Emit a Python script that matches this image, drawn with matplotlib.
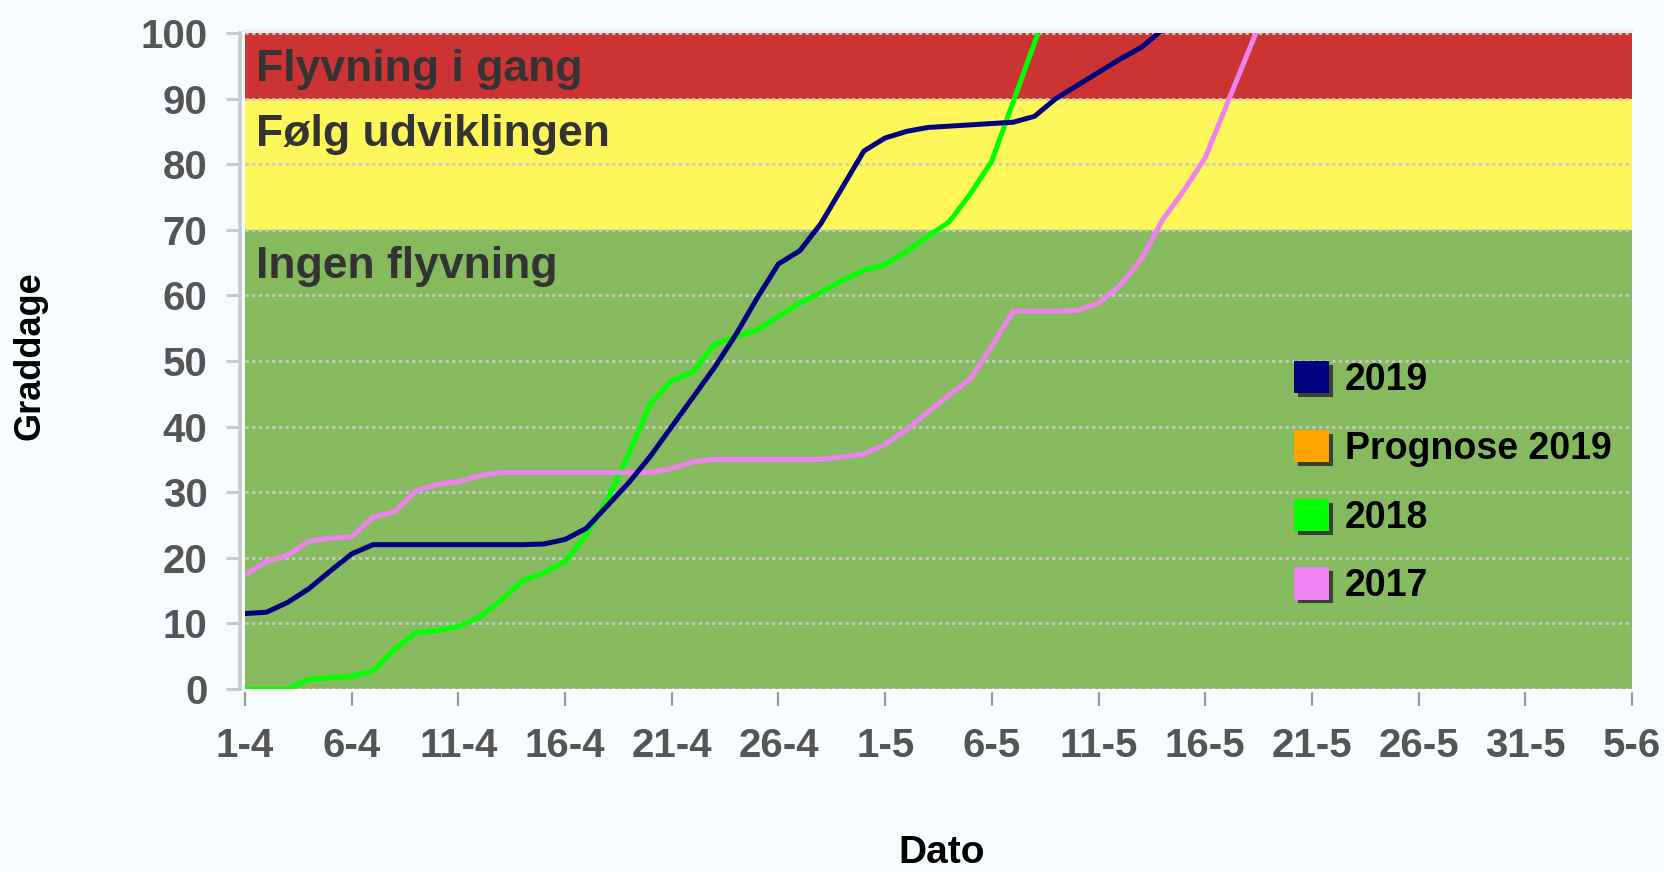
import matplotlib
matplotlib.use("Agg")
import matplotlib.pyplot as plt
from matplotlib.patches import Patch
import matplotlib.patheffects as pe

plt.rcParams['font.family'] = ['Liberation Sans', 'DejaVu Sans']
plt.rcParams['font.weight'] = 'bold'

# ---------------- data ----------------
tick_days = [0, 5, 10, 15, 20, 25, 30, 35, 40, 45, 50, 55, 60, 65]
tick_labels = ['1-4', '6-4', '11-4', '16-4', '21-4', '26-4', '1-5', '6-5',
               '11-5', '16-5', '21-5', '26-5', '31-5', '5-6']
y_ticks = [0, 10, 20, 30, 40, 50, 60, 70, 80, 90, 100]

band_lower = [0, 70, 90]
band_upper = [70, 90, 100]
band_colors = ['#85BB5E', '#FFF75A', '#CC3333']
band_labels = ['Ingen flyvning', 'Følg udviklingen', 'Flyvning i gang']

days_2019 = list(range(0, 45))
v2019 = [11.5, 11.7, 13.2, 15.3, 18.0, 20.6, 22.0, 22.0, 22.0, 22.0,
         22.0, 22.0, 22.0, 22.0, 22.1, 22.8, 24.5, 28.0, 31.5, 35.5,
         40.0, 44.5, 49.0, 54.0, 59.6, 64.8, 66.8, 71.0, 76.5, 82.0,
         84.0, 85.0, 85.6, 85.8, 86.0, 86.2, 86.4, 87.3, 90.0, 92.0,
         94.0, 96.0, 97.8, 100.5, 104.0]

days_2018 = list(range(0, 39))
v2018 = [0.0, 0.0, 0.0, 1.5, 1.7, 1.9, 2.8, 6.0, 8.6, 8.9,
         9.5, 11.0, 13.5, 16.5, 17.7, 19.4, 23.5, 29.0, 36.0, 43.5,
         47.0, 48.4, 52.5, 53.7, 54.7, 56.8, 58.8, 60.5, 62.3, 63.8,
         64.7, 66.7, 69.0, 71.2, 75.5, 80.5, 89.5, 98.5, 107.0]

days_2017 = list(range(0, 49))
v2017 = [17.4, 19.4, 20.4, 22.5, 23.0, 23.2, 26.2, 27.0, 30.2, 31.2,
         31.6, 32.5, 33.0, 33.0, 33.0, 33.0, 33.0, 33.0, 33.0, 33.0,
         33.6, 34.6, 35.0, 35.0, 35.0, 35.0, 35.0, 35.0, 35.4, 35.8,
         37.3, 39.5, 42.2, 44.8, 47.3, 52.3, 57.6, 57.6, 57.6, 57.7,
         58.8, 61.5, 65.5, 71.5, 76.0, 81.0, 89.0, 97.0, 105.0]

legend_labels = ['2019', 'Prognose 2019', '2018', '2017']
legend_colors = ['#000080', '#FFA500', '#00FF00', '#EE82EE']

# ---------------- figure ----------------
bg = '#F7FCFE'
fig = plt.figure(figsize=(16.65, 8.72), dpi=100, facecolor=bg)
ax = fig.add_axes([245 / 1665, 1 - 689 / 872, (1632 - 245) / 1665, (689 - 33) / 872])
ax.set_facecolor(bg)

for lo, hi, c, lab in zip(band_lower, band_upper, band_colors, band_labels):
    ax.axhspan(lo, hi, facecolor=c, edgecolor='none', zorder=1)
    ax.text(0.5, hi - 7.3, lab, fontsize=32, color='#333333', fontweight='bold',
            ha='left', va='baseline', zorder=4)

ax.plot(days_2019, v2019, color=legend_colors[0], lw=3.6, zorder=5,
        solid_joinstyle='round')
ax.plot(days_2018, v2018, color=legend_colors[2], lw=3.6, zorder=4,
        solid_joinstyle='round')
ax.plot(days_2017, v2017, color=legend_colors[3], lw=3.6, zorder=4,
        solid_joinstyle='round')

ax.set_xlim(tick_days[0], tick_days[-1])
ax.set_ylim(0, 100)
ax.set_xticks(tick_days)
ax.set_xticklabels(tick_labels)
ax.set_yticks(y_ticks)

ax.set_axisbelow('line')
ax.yaxis.grid(True, linestyle=(0, (1.2, 1.2)), color='#C8C8C8', linewidth=2.0, zorder=1.5)
ax.xaxis.grid(False)

ax.spines['right'].set_visible(False)
ax.spines['bottom'].set_position(('outward', 2.2))
ax.spines['bottom'].set_color('none')
ax.spines['left'].set_position(('outward', 3.6))
ax.spines['left'].set_color('#C8C8C8')
ax.spines['left'].set_linewidth(2.6)
ax.spines['top'].set_position(('outward', 1.2))
ax.spines['top'].set_color('#EEEEEE')
ax.spines['top'].set_linewidth(2.6)

ax.tick_params(axis='x', direction='out', length=10, width=1.6, color='#9A9A9A',
               pad=15.5, labelsize=29, labelcolor='#555555')
ax.tick_params(axis='y', direction='out', length=10, width=2.2, color='#C8C8C8',
               pad=13.5, labelsize=29, labelcolor='#555555')

fig.text(30 / 1665, 1 - 356 / 872, 'Graddage', rotation=90, ha='center', va='center',
         fontsize=26, color='black', fontweight='bold')
fig.text(942 / 1665, 1 / 872, 'Dato', ha='center', va='bottom',
         fontsize=28, color='black', fontweight='bold')

shadow = [pe.SimplePatchShadow(offset=(2.8, -2.8), shadow_rgbFace='#333333', alpha=0.9), pe.Normal()]
handles = [Patch(facecolor=c, edgecolor='none', path_effects=shadow) for c in legend_colors]
leg = ax.legend(handles, legend_labels, loc='upper left',
                bbox_to_anchor=(1294 / 1665, 1 - 361 / 872), bbox_transform=fig.transFigure,
                frameon=False, prop={'size': 27, 'weight': 'bold'},
                handlelength=0.94, handleheight=0.94, handletextpad=0.42,
                labelspacing=0.85, borderpad=0, borderaxespad=0)
for t in leg.get_texts():
    t.set_color('black')
leg.set_zorder(6)

fig.savefig('out.png', dpi=100, facecolor=bg)
